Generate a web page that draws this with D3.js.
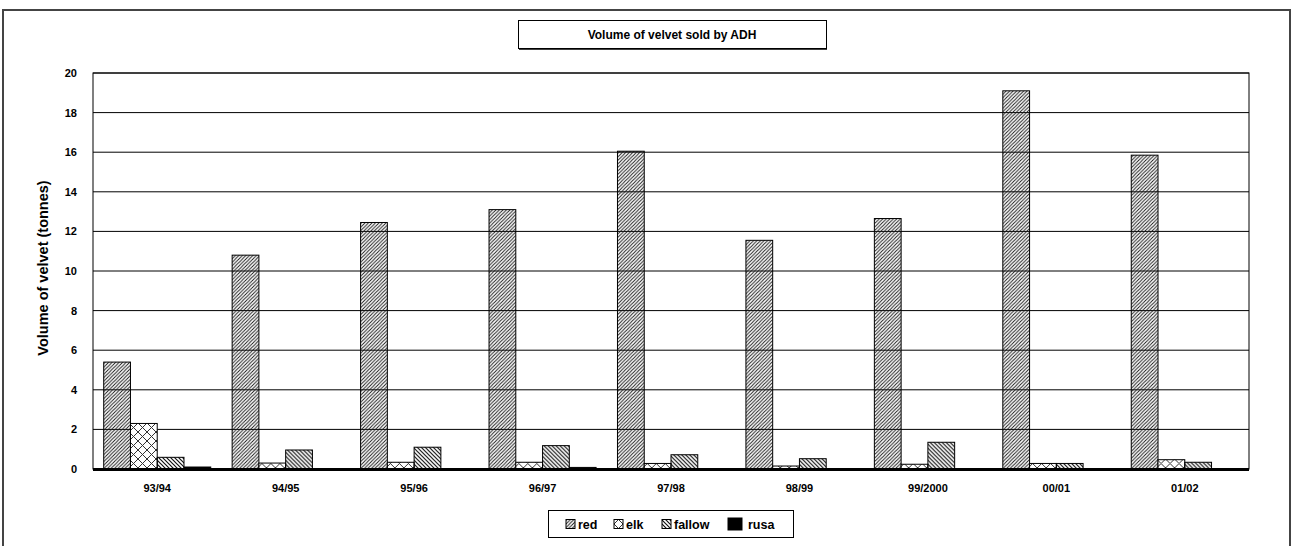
<!DOCTYPE html>
<html lang="en">
<head>
    <meta charset="UTF-8">
    <title>Volume of velvet sold by ADH</title>
    <script src="https://cdn.jsdelivr.net/npm/d3@7"></script>
    <style>
        body{ margin:0; background:#fff; }
        svg text{ font-family: Arial, "Liberation Sans", sans-serif; font-weight: bold; fill:#000; }
        .tick line{ display:none; }
        .domain{ display:none; }
    </style>
</head>
<body>
<svg width="1295" height="546"></svg>
<script>
    // values (tonnes)
    const categories = ["93/94", "94/95", "95/96", "96/97", "97/98", "98/99", "99/2000", "00/01", "01/02"];
    const seriesNames = ["red", "elk", "fallow", "rusa"];
    const red    = [5.4, 10.8, 12.45, 13.1, 16.05, 11.55, 12.65, 19.1, 15.85];
    const elk    = [2.3, 0.3, 0.34, 0.34, 0.28, 0.15, 0.24, 0.28, 0.47];
    const fallow = [0.59, 0.96, 1.1, 1.18, 0.72, 0.52, 1.35, 0.28, 0.34];
    const rusa   = [0.1, 0.02, 0.02, 0.08, 0.02, 0.02, 0.02, 0.02, 0.02];
    const yTicks = [0, 2, 4, 6, 8, 10, 12, 14, 16, 18, 20];

    const seriesValues = {red: red, elk: elk, fallow: fallow, rusa: rusa};
    const fills = {red: "url(#pRed)", elk: "url(#pElk)", fallow: "url(#pFallow)", rusa: "#000"};

    const svg = d3.select("svg");
    const plot = {left: 93, right: 1249, top: 73, bottom: 469};

    // hatch patterns like the old excel fills
    const defs = svg.append("defs");
    defs.append("pattern").attr("id", "pRed").attr("patternUnits", "userSpaceOnUse")
        .attr("width", 3.5).attr("height", 3.5)
        .append("path").attr("d", "M-1,1 l2,-2 M0,3.5 l3.5,-3.5 M2.5,4.5 l2,-2")
        .attr("stroke", "#111").attr("stroke-width", 0.9);
    defs.append("pattern").attr("id", "pFallow").attr("patternUnits", "userSpaceOnUse")
        .attr("width", 4).attr("height", 4)
        .append("path").attr("d", "M-1,3 l2,2 M0,0 l4,4 M3,-1 l2,2")
        .attr("stroke", "#111").attr("stroke-width", 1.2);
    const elkPat = defs.append("pattern").attr("id", "pElk").attr("patternUnits", "userSpaceOnUse")
        .attr("width", 9).attr("height", 9);
    elkPat.append("rect").attr("width", 9).attr("height", 9).attr("fill", "#fff");
    elkPat.append("path").attr("d", "M0,0 L9,9 M9,0 L0,9")
        .attr("stroke", "#333").attr("stroke-width", 1);

    // outer chart border
    svg.append("rect").attr("x", 3).attr("y", 10).attr("width", 1287).attr("height", 560)
        .attr("fill", "none").attr("stroke", "#444").attr("stroke-width", 2);

    // scales
    const x0 = d3.scaleBand().domain(categories).range([plot.left, plot.right]).padding(0);
    const groupPad = 10.7;
    const x1 = d3.scaleBand().domain(seriesNames)
        .range([groupPad, x0.bandwidth() - groupPad]).padding(0);
    const y = d3.scaleLinear().domain([0, 20]).range([plot.bottom, plot.top]);

    // gridlines
    svg.append("g").selectAll("line").data(yTicks).join("line")
        .attr("x1", plot.left).attr("x2", plot.right)
        .attr("y1", d => y(d)).attr("y2", d => y(d))
        .attr("stroke", "#000").attr("stroke-width", 1);

    // plot frame
    svg.append("rect").attr("x", plot.left).attr("y", plot.top)
        .attr("width", plot.right - plot.left).attr("height", plot.bottom - plot.top)
        .attr("fill", "none").attr("stroke", "#000").attr("stroke-width", 1);

    // bars
    const groups = svg.append("g").selectAll("g").data(categories).join("g")
        .attr("transform", d => `translate(${x0(d)},0)`);
    groups.selectAll("rect")
        .data((c, i) => seriesNames.map(s => ({s: s, v: seriesValues[s][i]})))
        .join("rect")
        .attr("x", d => x1(d.s))
        .attr("y", d => y(d.v))
        .attr("width", x1.bandwidth())
        .attr("height", d => y(0) - y(d.v))
        .attr("fill", d => fills[d.s])
        .attr("stroke", "#000").attr("stroke-width", 1);

    // thick baseline
    svg.append("line").attr("x1", plot.left).attr("x2", plot.right)
        .attr("y1", y(0) + 0.5).attr("y2", y(0) + 0.5)
        .attr("stroke", "#000").attr("stroke-width", 3);

    // axes
    svg.append("g").attr("transform", `translate(${plot.left},0)`)
        .call(d3.axisLeft(y).tickValues(yTicks).tickSize(0).tickPadding(16))
        .selectAll("text").style("font-size", "11px");
    svg.append("g").attr("transform", `translate(0,${plot.bottom})`)
        .call(d3.axisBottom(x0).tickSize(0).tickPadding(15))
        .selectAll("text").style("font-size", "11px");

    // y title
    svg.append("text")
        .attr("transform", `translate(48,${(plot.top + plot.bottom) / 2 - 3}) rotate(-90)`)
        .attr("text-anchor", "middle")
        .style("font-size", "14.5px")
        .text("Volume of velvet (tonnes)");

    // title box
    svg.append("rect").attr("x", 518.5).attr("y", 20.5).attr("width", 308).attr("height", 28)
        .attr("fill", "#fff").attr("stroke", "#000").attr("stroke-width", 1);
    svg.append("line").attr("x1", 519).attr("x2", 827).attr("y1", 49).attr("y2", 49)
        .attr("stroke", "#000").attr("stroke-width", 1.5);
    svg.append("text").attr("x", 672).attr("y", 39)
        .attr("text-anchor", "middle").style("font-size", "12px")
        .text("Volume of velvet sold by ADH");

    // legend
    svg.append("rect").attr("x", 548.5).attr("y", 510.5).attr("width", 245).attr("height", 27)
        .attr("fill", "#fff").attr("stroke", "#000").attr("stroke-width", 1);
    const legendX = [566, 614, 662, 728];
    const leg = svg.append("g").selectAll("g").data(seriesNames).join("g")
        .attr("transform", (d, i) => `translate(${legendX[i]},524)`);
    leg.append("rect")
        .attr("x", 0)
        .attr("y", d => d === "rusa" ? -6 : -4.5)
        .attr("width", d => d === "rusa" ? 14 : 9)
        .attr("height", d => d === "rusa" ? 12 : 9)
        .attr("fill", d => fills[d])
        .attr("stroke", "#000").attr("stroke-width", 1);
    leg.append("text")
        .attr("x", d => d === "rusa" ? 20 : 12)
        .attr("y", 4.5)
        .style("font-size", "12.5px")
        .text(d => d);
</script>
</body>
</html>
